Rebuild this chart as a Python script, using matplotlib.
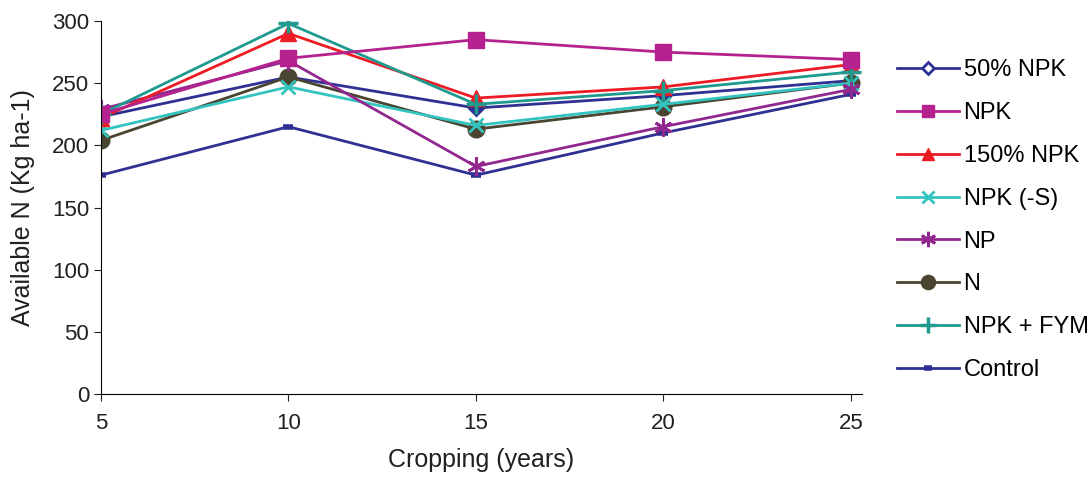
import matplotlib.pyplot as plt

years = [5, 10, 15, 20, 25]
npk50 = [223, 255, 230, 240, 252]
npk = [225, 270, 285, 275, 269]
npk150 = [222, 290, 238, 247, 265]
npk_s = [212, 247, 216, 233, 250]
np_ = [229, 268, 183, 215, 245]
n = [204, 255, 213, 231, 250]
npk_fym = [225, 298, 233, 244, 259]
control = [176, 215, 176, 210, 241]

plt.rcParams['font.family'] = ['Liberation Sans', 'DejaVu Sans']

fig = plt.figure(figsize=(10.92, 4.82), dpi=100)
# x=5 -> px 101, x=25 -> px 851, axis runs a bit past 25
ax = fig.add_axes([101/1092, 1 - 394/482, 761/1092, 373/482])

lw = 2
ax.plot(years, npk50, color='#2E3192', lw=lw, marker='D', ms=7, mfc='#2E3192', mew=2, label='50% NPK')
ax.plot(years, control, color='#2E3192', lw=lw, marker='_', ms=7, mew=4, label='Control')
ax.plot(years, n, color='#4A4530', lw=lw, marker='o', ms=12, label='N')
ax.plot(years, npk_s, color='#33C4C0', lw=lw, marker='x', ms=10, mew=2, label='NPK (-S)')
ax.plot(years, np_, color='#92278F', lw=lw, marker=(6, 2, 0), ms=13, mew=2, label='NP')
ax.plot(years, npk150, color='#ED1C24', lw=lw, marker='^', ms=11, label='150% NPK')
ax.plot(years, npk_fym, color='#1E9A8E', lw=lw, marker='+', ms=14, mew=2.5, label='NPK + FYM')
ax.plot(years, npk, color='#B5218E', lw=lw, marker='s', ms=11, label='NPK')

ax.set_xlim(5, 25.3)
ax.set_ylim(0, 300)
ax.set_xticks(years)
ax.set_yticks(range(0, 301, 50))
ax.spines['top'].set_visible(False)
ax.spines['right'].set_visible(False)
ax.tick_params(labelsize=16, length=5, colors='#231F20')
ax.tick_params(axis='x', pad=9)
ax.set_xlabel('Cropping (years)', fontsize=18, labelpad=10, color='#231F20')
ax.set_ylabel('Available N (Kg ha-1)', fontsize=18, labelpad=12, color='#231F20')

handles, labels = ax.get_legend_handles_labels()
order = ['50% NPK', 'NPK', '150% NPK', 'NPK (-S)', 'NP', 'N', 'NPK + FYM', 'Control']
h = [handles[labels.index(o)] for o in order]
h[0] = plt.Line2D([], [], color='#2E3192', lw=lw, marker='D', ms=7, mfc='white', mew=2)
ax.legend(h, order, loc='upper left', bbox_to_anchor=(888/1092, 1 - 50/482),
          bbox_transform=fig.transFigure, frameon=False, borderaxespad=0,
          fontsize=17, labelspacing=0.88, handlelength=2.6, handletextpad=0.2,
          markerscale=0.85)

fig.savefig('out.png', dpi=100)
